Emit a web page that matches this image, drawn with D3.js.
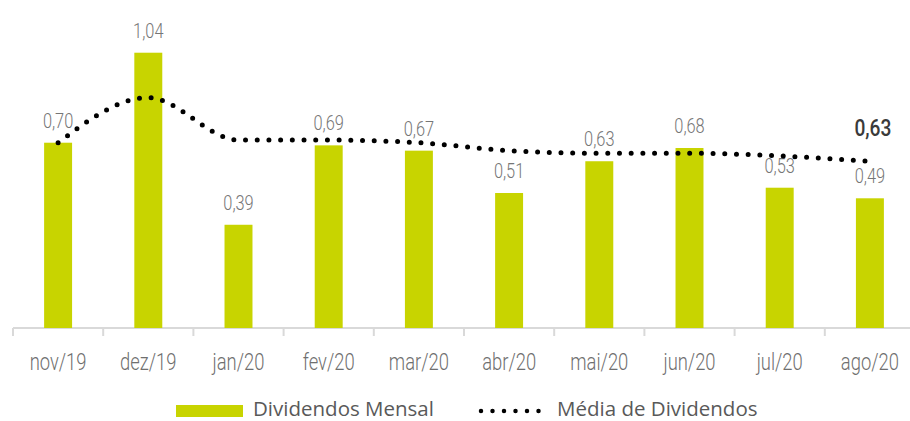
<!DOCTYPE html>
<html>
<head>
<meta charset="utf-8">
<script src="https://cdn.jsdelivr.net/npm/d3@7"></script>
<style>
  body { margin: 0; background: #fff; }
  svg { display: block; }
</style>
</head>
<body>
<div id="chart"></div>
<script>
// data
const months = ["nov/19", "dez/19", "jan/20", "fev/20", "mar/20", "abr/20", "mai/20", "jun/20", "jul/20", "ago/20"]
const dividendos = [0.70, 1.04, 0.39, 0.69, 0.67, 0.51, 0.63, 0.68, 0.53, 0.49]
const media = [0.70, 0.87, 0.71, 0.71, 0.70, 0.67, 0.66, 0.66, 0.65, 0.63]
const lastMediaLabel = "0,63"

const W = 910, H = 421
const BAR_COLOR = "#c8d400"
const NARROW = 0.8   // horizontal squeeze to mimic the condensed label font
const LABEL_FONT = "Roboto, 'Liberation Sans', sans-serif"

const svg = d3.select("#chart").append("svg")
    .attr("width", W)
    .attr("height", H)

const x = d3.scaleBand()
    .domain(months)
    .range([13, 915])
    .paddingInner(0.69)
    .paddingOuter(0.345)

const y = d3.scaleLinear()
    .domain([0, 1.2])
    .range([328, 328 - 1.2 * 264.7])

const fmt = v => d3.format(".2f")(v).replace(".", ",")
const cx = i => x(months[i]) + x.bandwidth() / 2

// condensed text helper
function narrowText(sel, px, py) {
    return sel.attr("transform", (d, i) => `translate(${px(d, i)},${py(d, i)}) scale(${NARROW},1)`)
        .attr("text-anchor", "middle")
        .style("font-family", LABEL_FONT)
}

// x axis
svg.append("line")
    .attr("x1", 13).attr("x2", W)
    .attr("y1", 328).attr("y2", 328)
    .attr("stroke", "#d9d9d9")
    .attr("stroke-width", 2)

// tick marks on the band boundaries
const bounds = months.map(m => x(m) - x.step() * x.paddingInner() / 2)
svg.append("g").selectAll("line")
    .data(bounds)
    .join("line")
    .attr("x1", d => d).attr("x2", d => d)
    .attr("y1", 328).attr("y2", 336)
    .attr("stroke", "#d9d9d9")
    .attr("stroke-width", 2)

svg.append("g").selectAll("text")
    .data(months)
    .join("text")
    .call(narrowText, (d, i) => cx(i), () => 370)
    .attr("fill", "#6f6f6f")
    .style("font-size", "23px")
    .style("font-weight", 300)
    .text(d => d)

// bars
svg.append("g").selectAll("rect")
    .data(dividendos)
    .join("rect")
    .attr("x", (d, i) => x(months[i]))
    .attr("y", d => y(d))
    .attr("width", x.bandwidth())
    .attr("height", d => y(0) - y(d))
    .attr("fill", BAR_COLOR)

// bar labels
svg.append("g").selectAll("text")
    .data(dividendos)
    .join("text")
    .call(narrowText, (d, i) => cx(i), d => y(d) - 15)
    .attr("fill", "#767676")
    .style("font-size", "20.5px")
    .style("font-weight", 300)
    .text(d => fmt(d))

// average line (dotted, smoothed)
const line = d3.line()
    .x((d, i) => cx(i))
    .y(d => y(d))
    .curve(d3.curveMonotoneX)

svg.append("path")
    .datum(media)
    .attr("d", line)
    .attr("fill", "none")
    .attr("stroke", "#000")
    .attr("stroke-width", 5)
    .attr("stroke-linecap", "round")
    .attr("stroke-dasharray", "0 11.7")

// last average label
const lastI = media.length - 1
svg.append("text")
    .datum(media[lastI])
    .call(narrowText, () => cx(lastI) + 3, d => y(d) - 25)
    .attr("fill", "#3a3a3a")
    .style("font-size", "24px")
    .style("font-weight", 500)
    .text(lastMediaLabel)

// legend
const legend = svg.append("g")
    .style("font-family", "'Open Sans', sans-serif")
    .style("font-size", "20.5px")
    .attr("fill", "#595959")
legend.append("rect")
    .attr("x", 176).attr("y", 405)
    .attr("width", 67).attr("height", 12)
    .attr("fill", BAR_COLOR)
legend.append("text")
    .attr("x", 253).attr("y", 416)
    .text("Dividendos Mensal")
legend.append("line")
    .attr("x1", 481).attr("x2", 550)
    .attr("y1", 411).attr("y2", 411)
    .attr("stroke", "#000")
    .attr("stroke-width", 4.5)
    .attr("stroke-linecap", "round")
    .attr("stroke-dasharray", "0 11.5")
legend.append("text")
    .attr("x", 557).attr("y", 416)
    .text("Média de Dividendos")
</script>
</body>
</html>
